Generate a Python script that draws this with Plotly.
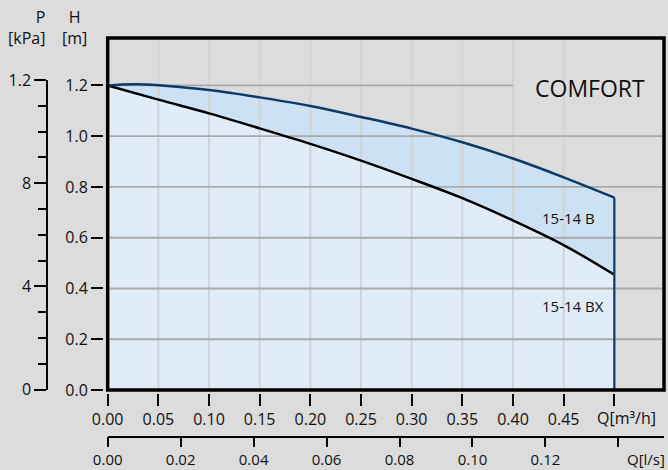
import plotly.graph_objects as go

# ---------------- data ----------------
Q_B = [0.00, 0.03, 0.10, 0.15, 0.20, 0.25, 0.30, 0.35, 0.40, 0.45, 0.50]
H_B = [1.200, 1.205, 1.182, 1.153, 1.119, 1.076, 1.030, 0.976, 0.912, 0.838, 0.758]

Q_BX = [0.00, 0.05, 0.10, 0.15, 0.20, 0.25, 0.30, 0.35, 0.40, 0.45, 0.50]
H_BX = [1.200, 1.144, 1.090, 1.031, 0.970, 0.904, 0.832, 0.756, 0.668, 0.571, 0.454]

Q_TICKS = [0.00, 0.05, 0.10, 0.15, 0.20, 0.25, 0.30, 0.35, 0.40, 0.45, 0.50]
Q_TICK_TEXT = ["0.00", "0.05", "0.10", "0.15", "0.20", "0.25", "0.30", "0.35", "0.40", "0.45", ""]
QLS_TICKS = [0.00, 0.02, 0.04, 0.06, 0.08, 0.10, 0.12, 0.14]
QLS_TICK_TEXT = ["0.00", "0.02", "0.04", "0.06", "0.08", "0.10", "0.12", ""]
H_TICKS = [0.0, 0.2, 0.4, 0.6, 0.8, 1.0, 1.2]
H_TICK_TEXT = ["0.0", "0.2", "0.4", "0.6", "0.8", "1.0", "1.2"]
P_TICKS = [0, 4, 8, 12]
P_TICK_TEXT = ["0", "4", "8", "1.2"]

H_GRID = [0.2, 0.4, 0.6, 0.8, 1.0]
H_GRID_SHORT = 1.2
Q_GRID = [0.05, 0.10, 0.15, 0.20, 0.25, 0.30, 0.35, 0.40, 0.45]

TITLE = "COMFORT"
LABEL_B = "15-14 B"
LABEL_BX = "15-14 BX"
Q_UNIT_M3H = "Q[m³/h]"
Q_UNIT_LS = "Q[l/s]"
P_TITLE = "P<br>[kPa]"
H_TITLE = "H<br>[m]"

# ---------------- styling / geometry ----------------
W, H = 668, 470
ML, MR, MT, MB = 10, 4, 38, 5
PW, PH = W - ML - MR, H - MT - MB


def px(x):
    return (x - ML) / PW


def py(y):
    return (H - MB - y) / PH


FONT = "Open Sans"
BG = "#dcdcdc"
FILL_UP = "#cce2f4"
FILL_LO = "#e0edf9"
NAVY = "#0b3a66"
TXT = "#111111"
X_MAX = 0.549
Y_MAX = 1.387
M3H_PER_LS = 3.6
H_SHORT_END = 0.40
SMOOTH = 1.0

x_dom = [px(107.7), 1.0]
y_dom = [py(390.0), 1.0]

fig = go.Figure()

# fills
fig.add_trace(go.Scatter(x=Q_B, y=H_B, mode="lines", line=dict(width=0, shape="spline", smoothing=SMOOTH),
                         fill="tozeroy", fillcolor=FILL_UP, hoverinfo="skip", showlegend=False))
fig.add_trace(go.Scatter(x=Q_BX, y=H_BX, mode="lines", line=dict(width=0, shape="spline", smoothing=SMOOTH),
                         fill="tozeroy", fillcolor=FILL_LO, hoverinfo="skip", showlegend=False))

# grid lines (drawn over the fills)
gx, gy = [], []
for q in Q_GRID:
    gx += [q, q, None]
    gy += [0, Y_MAX, None]
fig.add_trace(go.Scatter(x=gx, y=gy, mode="lines", line=dict(color="#d3d3d3", width=2),
                         hoverinfo="skip", showlegend=False))
hx, hy = [], []
for h in H_GRID:
    hx += [0, X_MAX, None]
    hy += [h, h, None]
hx += [0, H_SHORT_END, None]
hy += [H_GRID_SHORT, H_GRID_SHORT, None]
fig.add_trace(go.Scatter(x=hx, y=hy, mode="lines", line=dict(color="#aaaaaa", width=1.8),
                         hoverinfo="skip", showlegend=False))

# curves
fig.add_trace(go.Scatter(x=Q_BX, y=H_BX, mode="lines",
                         line=dict(color="black", width=2.5, shape="spline", smoothing=SMOOTH),
                         hoverinfo="skip", showlegend=False))
fig.add_trace(go.Scatter(x=Q_B, y=H_B, mode="lines",
                         line=dict(color=NAVY, width=2.5, shape="spline", smoothing=SMOOTH),
                         hoverinfo="skip", showlegend=False))
fig.add_trace(go.Scatter(x=[Q_B[-1], Q_B[-1]], y=[0, H_B[-1]], mode="lines", line=dict(color=NAVY, width=2.2),
                         hoverinfo="skip", showlegend=False))

# helper traces so secondary axes get drawn
fig.add_trace(go.Scatter(x=[0], y=[0], xaxis="x2", yaxis="y", mode="markers", marker=dict(opacity=0),
                         hoverinfo="skip", showlegend=False))
fig.add_trace(go.Scatter(x=[0], y=[0], xaxis="x", yaxis="y2", mode="markers", marker=dict(opacity=0),
                         hoverinfo="skip", showlegend=False))

tickfont = dict(family=FONT, size=16, color=TXT)
common = dict(automargin=False, showgrid=False, zeroline=False, fixedrange=True,
              ticks="outside", tickwidth=1.5, tickcolor="black",
              tickmode="array")


def label(text, x, y, size=16, xref="paper", yref="paper", xanchor="center", align="center"):
    return dict(text=text, xref=xref, yref=yref, x=x, y=y, xanchor=xanchor, yanchor="middle",
                align=align, showarrow=False, font=dict(family=FONT, size=size, color=TXT))


fig.update_layout(
    template="none",
    width=W, height=H, autosize=False,
    margin=dict(l=ML, r=MR, t=MT, b=MB, pad=0),
    paper_bgcolor=BG, plot_bgcolor="rgba(0,0,0,0)",
    font=dict(family=FONT, size=16, color=TXT),
    showlegend=False,
    xaxis=dict(domain=x_dom, range=[0, X_MAX], anchor="free", position=py(393), side="bottom",
               tickvals=Q_TICKS, ticktext=Q_TICK_TEXT, ticklen=12, tickfont=tickfont,
               showline=False, **common),
    xaxis2=dict(overlaying="x", range=[0, X_MAX / M3H_PER_LS], anchor="free", position=py(436.5),
                side="bottom", tickvals=QLS_TICKS, ticktext=QLS_TICK_TEXT, ticklen=10,
                tickfont=dict(family=FONT, size=15, color=TXT),
                showline=True, linecolor="black", linewidth=1.5, **common),
    yaxis=dict(domain=y_dom, range=[0, Y_MAX], anchor="free", position=px(103), side="left",
               tickvals=H_TICKS, ticktext=H_TICK_TEXT, ticklen=12, tickfont=tickfont,
               showline=False, **common),
    yaxis2=dict(domain=[py(389.5), py(80)], range=[0, 12], anchor="free", position=px(47), side="left",
                tickvals=P_TICKS, ticktext=P_TICK_TEXT, ticklen=12, tickfont=tickfont,
                minor=dict(tickmode="linear", tick0=0, dtick=1, ticks="outside", ticklen=8,
                           tickwidth=1.5, tickcolor="black", showgrid=False),
                showline=True, linecolor="black", linewidth=1.5, **common),
    shapes=[dict(type="rect", xref="x domain", yref="y domain", x0=0, x1=1, y0=0, y1=1,
                 line=dict(color="black", width=3.5), layer="above")],
    annotations=[
        label(TITLE, 0.476, 1.19, size=23, xref="x", yref="y"),
        label(LABEL_B, 0.427, 0.676, size=15, xref="x", yref="y", xanchor="left"),
        label(LABEL_BX, 0.427, 0.33, size=15, xref="x", yref="y", xanchor="left"),
        label(Q_UNIT_M3H, px(595), py(418), xanchor="left"),
        label(Q_UNIT_LS, px(667), py(459), size=15, xanchor="right"),
        label(P_TITLE, px(46.5), py(28), xanchor="right", align="right"),
        label(H_TITLE, px(74.5), py(28)),
    ],
)

fig.write_html("out.html", config={"displayModeBar": False},
               post_script="document.body.style.margin='0px';document.body.style.background='#dcdcdc';")
